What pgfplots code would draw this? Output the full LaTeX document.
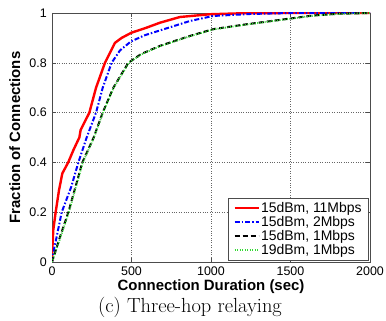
\documentclass[border=0pt]{standalone}
\usepackage{pgfplots}
\pgfplotsset{compat=1.18}
\usepackage{fontspec}
\setsansfont{Liberation Sans}
\definecolor{mgreen}{rgb}{0.2,0.85,0.2}
\begin{document}
\begin{tikzpicture}
\useasboundingbox (-52bp,-59bp) rectangle (334bp,262bp);
\begin{axis}[
  at={(0,0)}, anchor=south west,
  scale only axis, width=318bp, height=249bp,
  xmin=0, xmax=2000, ymin=0, ymax=1,
  xtick={0,500,1000,1500,2000},
  ytick={0,0.2,0.4,0.6,0.8,1},
  scaled ticks=false,
  /pgf/number format/1000 sep={},
  /pgf/number format/assume math mode=true,
  ticklabel style={font=\fontsize{12.5}{14}\sffamily},
  yticklabel style={inner sep=0pt, xshift=-5bp},
  xticklabel style={inner sep=0pt, yshift=-5bp},
  tick align=inside, major tick length=4bp,
  tick style={black!70, thin},
  axis line style={black!70, thin},
  grid=major,
  major grid style={dotted, black!60, thin},
  xlabel={Connection Duration (sec)},
  ylabel={Fraction of Connections},
  label style={font=\fontsize{15}{17}\bfseries\sffamily, inner sep=0pt},
  xlabel style={at={(axis description cs:0.5,0)}, anchor=base, yshift=-28bp},
  ylabel style={at={(axis description cs:-0.1006,0.5)}, anchor=base},
  legend cell align=left,
  legend image code/.code={\draw[#1] (0bp,0bp) -- (24bp,0bp);},
  legend style={at={(1,0)}, anchor=south east, xshift=-2bp, yshift=2bp,
    font=\fontsize{14}{15}\sffamily, draw=black!70, thin,
    inner xsep=5bp, inner ysep=3bp, row sep=0bp,
    nodes={inner sep=1.2bp}},
]
\addplot[red, line width=2.4bp] coordinates {
(0,0) (2,0.05) (8,0.128) (23,0.2) (44,0.288) (65,0.356) (102,0.4) (135,0.45)
(172,0.5) (180,0.53) (235,0.6) (277,0.7) (333,0.8) (396,0.88) (438,0.9)
(500,0.921) (590,0.94) (679,0.961) (805,0.984) (994,0.995) (1200,0.999)
(1500,1) (2000,1)};
\addlegendentry{15dBm, 11Mbps}
\addplot[blue, line width=2bp, dash pattern=on 5bp off 2bp on 1.5bp off 2bp] coordinates {
(0,0) (12,0.05) (29,0.1) (61,0.2) (120,0.3) (166,0.4) (218,0.5) (277,0.6)
(319,0.7) (375,0.8) (428,0.85) (495,0.885) (580,0.91) (679,0.93) (868,0.968)
(1013,0.988) (1245,0.996) (1500,1) (2000,1)};
\addlegendentry{15dBm, 2Mbps}
\addplot[black, line width=2bp, dash pattern=on 5bp off 3bp] coordinates {
(0,0) (50,0.1) (103,0.2) (147,0.3) (191,0.4) (262,0.5) (319,0.6) (386,0.7)
(480,0.8) (560,0.835) (679,0.868) (868,0.908) (1013,0.935) (1226,0.955)
(1500,0.978) (1642,0.99) (1800,0.997) (2000,1)};
\addlegendentry{15dBm, 1Mbps}
\addplot[mgreen, line width=1.8bp, dash pattern=on 1bp off 1.5bp] coordinates {
(0,0) (54,0.1) (106,0.2) (150,0.3) (194,0.4) (264,0.5) (321,0.6) (388,0.7)
(483,0.8) (562,0.834) (681,0.867) (870,0.907) (1015,0.934) (1228,0.954)
(1500,0.977) (1642,0.989) (1800,0.996) (2000,1)};
\addlegendentry{19dBm, 1Mbps}
\end{axis}
\node[anchor=base, inner sep=0pt, font=\fontsize{20.5}{22}\selectfont] at (138bp,-50bp) {(c)\ Three-hop relaying};
\end{tikzpicture}
\end{document}
